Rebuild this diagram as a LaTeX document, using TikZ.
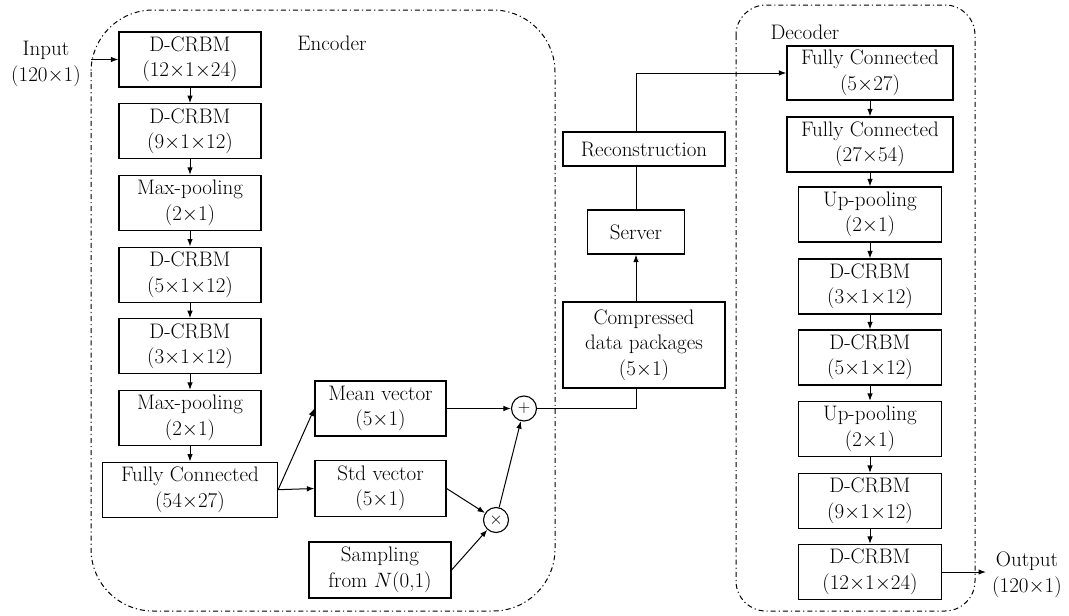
\documentclass[tikz,border=0pt]{standalone}
\usetikzlibrary{arrows.meta,calc}
\begin{document}
\begin{tikzpicture}[x=1pt,y=-1pt,
  txt/.style={font=\fontsize{21}{25.5}\selectfont, align=center, inner sep=0pt},
  box/.style={txt, draw, line width=1.2pt},
  ebox/.style={box, minimum width=142pt, minimum height=55pt},
  dbox/.style={box, minimum width=143pt, minimum height=55pt},
  arr/.style={line width=1pt, -{Latex[length=7.5pt,width=5.5pt]}},
  ln/.style={line width=1pt},
  bound/.style={line width=1pt, dash pattern=on 5pt off 3pt on 1.2pt off 3pt},
  op/.style={draw, circle, line width=1.1pt, minimum size=25pt, inner sep=0pt, font=\fontsize{19}{19}\selectfont}]
\useasboundingbox (0,0) rectangle (1069,616);

% boundaries
\draw[bound, rounded corners=62pt] (91,10) rectangle (555,611);
\draw[bound, rounded corners=30pt] (736,5) rectangle (975,611);
\node[txt] (enclab) at (332,43) {Encoder};
\node[txt] (declab) at (805,32) {Decoder};

% input
\node[txt] (inlab) at (46,64) {Input\\(120$\times$1)};
\coordinate (inp) at (91,59.5);

% encoder column
\node[ebox] (e1) at (190,59.5) {D-CRBM\\(12$\times$1$\times$24)};
\node[ebox] (e2) at (190,131.2) {D-CRBM\\(9$\times$1$\times$12)};
\node[ebox] (e3) at (190,202.9) {Max-pooling\\(2$\times$1)};
\node[ebox] (e4) at (190,274.6) {D-CRBM\\(5$\times$1$\times$12)};
\node[ebox] (e5) at (190,346.3) {D-CRBM\\(3$\times$1$\times$12)};
\node[ebox] (e6) at (190,418) {Max-pooling\\(2$\times$1)};
\node[box, minimum width=175pt, minimum height=55pt] (efc) at (190,489.7) {Fully Connected\\(54$\times$27)};

\node[box, minimum width=131pt, minimum height=55pt] (mean) at (380.5,408.5) {Mean vector\\(5$\times$1)};
\node[box, minimum width=131pt, minimum height=56pt] (std) at (380.5,488.5) {Std vector\\(5$\times$1)};
\node[box, minimum width=142pt, minimum height=56pt] (samp) at (380,570) {Sampling\\from $N$(0,1)};
\node[op] (plus) at (524,408.5) {$+$};
\node[op] (times) at (496,520) {$\times$};

% middle column
\node[box, minimum width=162pt, minimum height=86pt] (comp) at (644,345) {Compressed\\data packages\\(5$\times$1)};
\node[box, minimum width=97pt, minimum height=44pt] (server) at (636,232) {Server};
\node[box, minimum width=162pt, minimum height=34pt] (recon) at (644,149) {Reconstruction};

% decoder column
\node[box, minimum width=166pt, minimum height=54pt] (d1) at (870,73) {Fully Connected\\(5$\times$27)};
\node[box, minimum width=166pt, minimum height=55pt] (d2) at (870,144.5) {Fully Connected\\(27$\times$54)};
\node[dbox] (d3) at (870,214.5) {Up-pooling\\(2$\times$1)};
\node[dbox] (d4) at (870,286.5) {D-CRBM\\(3$\times$1$\times$12)};
\node[dbox] (d5) at (870,357.5) {D-CRBM\\(5$\times$1$\times$12)};
\node[dbox] (d6) at (870,429) {Up-pooling\\(2$\times$1)};
\node[dbox] (d7) at (870,501) {D-CRBM\\(9$\times$1$\times$12)};
\node[dbox] (d8) at (870,572) {D-CRBM\\(12$\times$1$\times$24)};

% output
\node[txt] (outlab) at (1027,575) {Output\\(120$\times$1)};
\coordinate (outp) at (986,572);

% connectors
\draw[arr] (inp) -- (e1.west);
\foreach \a/\b in {e1/e2,e2/e3,e3/e4,e4/e5,e5/e6,e6/efc,d1/d2,d2/d3,d3/d4,d4/d5,d5/d6,d6/d7,d7/d8}
  \draw[arr] (\a.south) -- (\b.north);
\draw[arr] (efc.east) -- (mean.west);
\draw[arr] (efc.east) -- (std.west);
\draw[arr] (std.east) -- (times);
\draw[arr] (samp.east) -- (times);
\draw[arr] (times) -- (plus);
\draw[arr] (mean.east) -- (plus.west);
\draw[ln] (plus.east) -- (server.south |- plus) -- (server.south |- comp.south);
\draw[arr] (server.south |- comp.north) -- (server.south);
\draw[ln] (server.north) -- (server.north |- recon.south);
\draw[arr] (server.north |- recon.north) -- (server.north |- d1.west) -- (d1.west);
\draw[arr] (d8.east |- outp) -- (outp);
\end{tikzpicture}
\end{document}
